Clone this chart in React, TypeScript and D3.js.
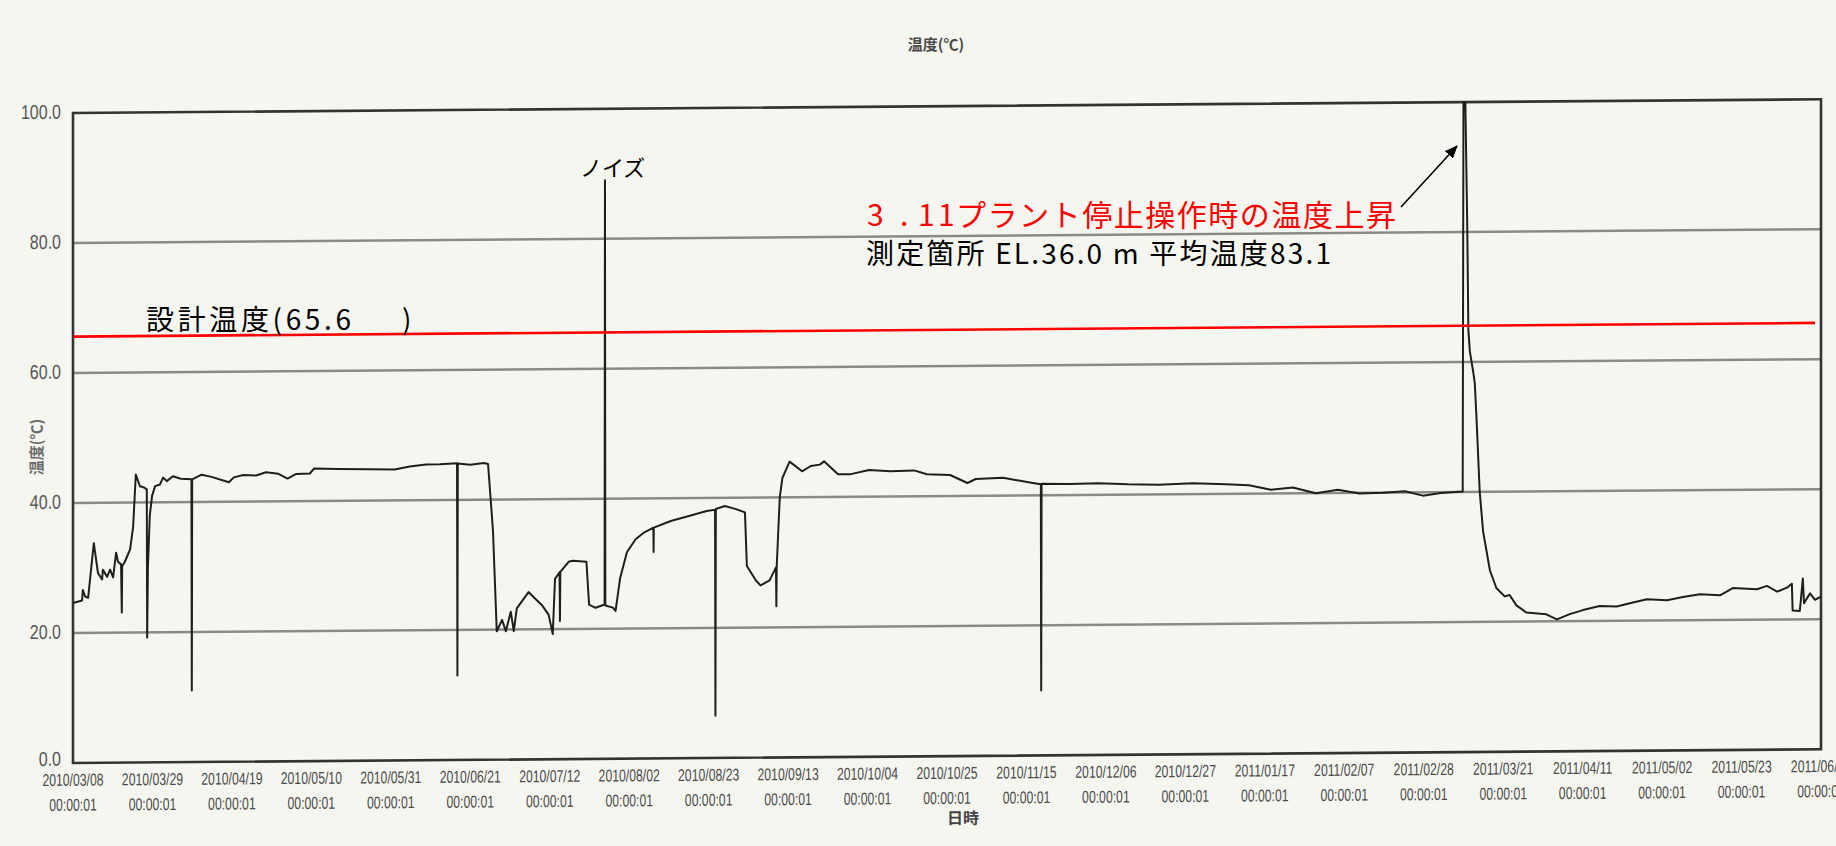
import React from 'react';
import * as d3 from 'd3';

// ---- data ----
const TICK_DATES = [
  '2010/03/08', '2010/03/29', '2010/04/19', '2010/05/10', '2010/05/31', '2010/06/21',
  '2010/07/12', '2010/08/02', '2010/08/23', '2010/09/13', '2010/10/04', '2010/10/25',
  '2010/11/15', '2010/12/06', '2010/12/27', '2011/01/17', '2011/02/07', '2011/02/28',
  '2011/03/21', '2011/04/11', '2011/05/02', '2011/05/23', '2011/06/13',
];
const TICK_TIME = '00:00:01';
const Y_TICKS = [0, 20, 40, 60, 80, 100];
const DESIGN_TEMP = 65.6;

// days elapsed since 2010/03/08 00:00:01
const sampleDays = [
  0, 1.2, 2.4, 2.6, 3.2, 4.0, 5.5, 6.6, 7.7, 7.9, 9.0, 9.8, 10.6, 11.4, 11.9, 12.7, 12.9, 13.0,
  13.7, 15.1, 15.9, 16.6, 17.7, 18.8, 19.5, 19.6, 19.8, 20.3, 20.9, 21.7, 23, 23.8, 24.8, 26.4,
  28.5, 31.3, 31.4, 31.5, 34, 36.6, 41.2, 42.5, 45, 48.4, 51, 54.3, 56.7, 59, 62.6, 63.7, 70,
  78, 85, 89, 93.3, 97, 101.5, 101.6, 101.7, 105, 108.6, 109.7, 111, 112, 113.4, 114.4, 115.7,
  116.5, 117.3, 120.4, 122.1, 123.9, 125.7, 126.8, 127.4, 128.6, 128.7, 128.8, 131, 132.1,
  135.7, 136.4, 138.1, 140.5, 140.6, 140.7, 142.7, 143.4, 144.6, 146.4, 148.7, 151, 153.4,
  153.45, 153.5, 158, 162.8, 167.5, 169.7, 169.8, 169.9, 172.3, 175, 177.6, 178.1, 180.5,
  181.7, 184.1, 185.8, 185.9, 186.0, 186.8, 187.5, 189.4, 192.7, 195, 197.4, 198.5, 202.2,
  205.6, 210.4, 216, 222.3, 225.7, 231.8, 236.4, 238.6, 245.8, 252.9, 255.8, 255.9, 256.0,
  263.5, 271, 278.8, 287, 296, 304.7, 310.8, 316.6, 322.4, 328.5, 334.3, 340.1, 346.2, 352,
  356.8, 361.5, 367.3, 367.5, 368.0, 368.5, 368.8, 369.2, 370.1, 370.5, 371, 371.8, 372.7,
  374.5, 376.2, 378.4, 379.7, 381.5, 384.1, 389.4, 392.2, 395.6, 399.1, 403.5, 408, 412.3,
  416, 421.3, 425.5, 430, 435.3, 438.7, 445.1, 447.7, 450.4, 453, 454.3, 454.5, 456.4, 457.2,
  457.5, 459.1, 460.4, 462,
];
const sampleTemps = [
  24.6, 24.8, 25, 26.6, 25.6, 25.4, 33.8, 29.2, 28.2, 29.7, 28.6, 29.7, 28.5, 32.3, 30.9, 30.5, 23.1, 30.2,
  30.9, 32.8, 36.3, 44.3, 42.5, 42.3, 42, 19.2, 30, 38, 41, 42.5, 42.75, 43.8, 43.25, 44,
  43.6, 43.5, 11, 43.5, 44.2, 43.85, 43, 43.75, 44.1, 44, 44.5, 44.25, 43.5, 44.2, 44.25, 45, 44.9,
  44.85, 44.75, 45.2, 45.5, 45.5, 45.65, 13, 45.6, 45.4, 45.65, 45.5, 35.25, 19.75, 21.5, 19.75, 22.75,
  19.75, 23.25, 25.75, 24.75, 23.75, 22.25, 19.25, 27.75, 28.75, 21.25, 28.8, 30.35, 30.5,
  30.35, 23.75, 23.25, 23.75, 89, 23.6, 23.25, 22.75, 27.75, 31.75, 33.75, 34.8, 35.5,
  31.75, 35.5, 36.5, 37.25, 38, 38.2, 6.5, 38.3, 38.75, 38.3, 37.75, 29.5, 27.25,
  26.5, 27.25, 29.25, 23.25, 29.5, 40, 43, 45.5, 44, 44.8, 45, 45.5, 43.5,
  43.5, 44.1, 43.9, 44, 43.4, 43.25, 42, 42.6, 42.75, 42, 41.7, 10, 41.8,
  41.7, 41.8, 41.6, 41.5, 41.7, 41.5, 41.3, 40.6, 40.9, 40, 40.5, 39.9, 40, 40.2,
  39.5, 39.9, 40.1, 100, 100, 81.1, 64.9, 61.6, 58.4, 56.7, 50.7, 40, 33.9,
  27.9, 25.2, 23.9, 24.1, 22.5, 21.4, 21.1, 20.3, 21.1, 21.7, 22.3, 22.2, 22.8,
  23.3, 23.1, 23.6, 24, 23.8, 24.9, 24.7, 25.2, 24.3, 24.9, 25.5, 21.4, 21.3, 26.3,
  22.5, 24, 23, 23.5,
];

// ---- layout ----
const W = 1836;
const H = 846;
const PL = 73, PR = 1821, PT = 113, PB = 763;
const SKEW = -0.45;
const BG = '#f6f6f1';
const TICK_FONT = '"Liberation Sans", Arial, sans-serif';
const JP_FONT = '"Noto Sans CJK JP", "Noto Sans", sans-serif';

const parse = d3.utcParse('%Y/%m/%d');

export default function App() {
  const t0 = parse(TICK_DATES[0])!.getTime();
  const x = d3.scaleUtc()
    .domain([parse(TICK_DATES[0])!, parse(TICK_DATES[TICK_DATES.length - 1])!])
    .range([PL, PR]);
  const y = d3.scaleLinear().domain([0, 100]).range([PB, PT]);
  const data = sampleDays.map((d, i) => ({ date: new Date(t0 + d * 864e5), v: sampleTemps[i] }));
  const line = d3.line<{ date: Date; v: number }>()
    .x((d) => x(d.date))
    .y((d) => y(d.v));

  const skew = `translate(${PL},0) skewY(${SKEW}) translate(${-PL},0)`;

  return (
    <svg width={W} height={H} style={{ position: 'absolute', left: 0, top: 0, background: BG }}>
      <defs>
        <marker id="ah" viewBox="0 0 12 10" refX="11" refY="5" markerWidth="13" markerHeight="11"
          markerUnits="userSpaceOnUse" orient="auto">
          <path d="M0,0 L12,5 L0,10 z" fill="#000" />
        </marker>
        <clipPath id="plotClip">
          <rect x={PL} y={PT - 2} width={PR - PL} height={PB - PT + 2} />
        </clipPath>
      </defs>
      <rect x={0} y={0} width={W} height={H} fill={BG} />

      {/* title */}
      <text x={936} y={43} textAnchor="middle" dominantBaseline="central" fontFamily={JP_FONT}
        fontSize={15} fontWeight={700} fill="#4a4a4a">温度(℃)</text>

      {/* y-axis title */}
      <text transform="translate(35,447) rotate(-90)" textAnchor="middle" dominantBaseline="central"
        fontFamily={JP_FONT} fontSize={15} fontWeight={700} fill="#6a6a6a">温度(℃)</text>

      <g transform={skew}>
        {/* grid */}
        {Y_TICKS.filter((v) => v > 0 && v < 100).map((v) => (
          <line key={v} x1={PL} x2={PR} y1={y(v)} y2={y(v)} stroke="#8a8a8a" strokeWidth={2.5} />
        ))}
        {/* border */}
        <rect x={PL} y={PT} width={PR - PL} height={PB - PT} fill="none" stroke="#333" strokeWidth={2.6} />

        {/* y tick labels */}
        {Y_TICKS.map((v) => (
          <text key={v} transform={`translate(61,${y(v) - (v === 0 ? 4 : 1)}) scale(0.8,1)`} textAnchor="end"
            dominantBaseline="central" fontFamily={TICK_FONT} fontSize={20} fill="#555">
            {v.toFixed(1)}
          </text>
        ))}

        {/* x tick labels */}
        {TICK_DATES.map((d) => {
          const px = x(parse(d)!);
          return (
            <g key={d}>
              <text transform={`translate(${px},780) scale(0.72,1)`} textAnchor="middle"
                dominantBaseline="central" fontFamily={TICK_FONT} fontSize={17} fill="#4a4a4a">{d}</text>
              <text transform={`translate(${px},805) scale(0.72,1)`} textAnchor="middle"
                dominantBaseline="central" fontFamily={TICK_FONT} fontSize={17} fill="#4a4a4a">{TICK_TIME}</text>
            </g>
          );
        })}

        {/* x-axis title */}
        <text x={963} y={824} textAnchor="middle" dominantBaseline="central" fontFamily={JP_FONT}
          fontSize={16} fontWeight={700} fill="#444">日時</text>

        {/* data */}
        <g clipPath="url(#plotClip)">
          <path d={line(data) ?? ''} fill="none" stroke="#1e1e1e" strokeWidth={2}
            strokeLinejoin="round" />
        </g>

        {/* design temperature */}
        <line x1={PL} x2={PR - 6} y1={y(DESIGN_TEMP)} y2={y(DESIGN_TEMP)} stroke="#ff0000" strokeWidth={2.6} />
      </g>

      {/* annotations */}
      <text x={146} y={318} dominantBaseline="central" fontFamily={JP_FONT} fontSize={28} fill="#000"
        textLength={205} lengthAdjust="spacing">設計温度(65.6</text>
      <text x={402} y={318} dominantBaseline="central" fontFamily={JP_FONT} fontSize={28} fill="#000">)</text>

      <text x={580} y={166} dominantBaseline="central" fontFamily={JP_FONT} fontSize={22} fill="#000">ノイズ</text>

      <text y={213} dominantBaseline="central" fontFamily={JP_FONT} fontSize={30} fill="#ff0000">
        <tspan x={867}>3</tspan>
        <tspan x={900}>.</tspan>
        <tspan x={918}>1</tspan>
        <tspan x={938}>1</tspan>
      </text>
      <text x={956} y={213} dominantBaseline="central" fontFamily={JP_FONT} fontSize={30} fill="#ff0000"
        textLength={440} lengthAdjust="spacing">プラント停止操作時の温度上昇</text>

      <text x={866} y={252} dominantBaseline="central" fontFamily={JP_FONT} fontSize={28} fill="#000"
        textLength={465} lengthAdjust="spacing">測定箇所 EL.36.0 m 平均温度83.1</text>

      <line x1={1401} y1={207} x2={1457} y2={146} stroke="#000" strokeWidth={1.6} markerEnd="url(#ah)" />
    </svg>
  );
}
